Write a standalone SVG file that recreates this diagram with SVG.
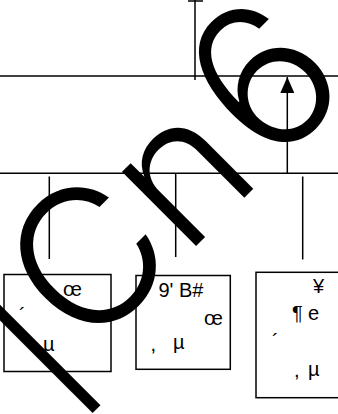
<svg xmlns="http://www.w3.org/2000/svg" width="338" height="414" viewBox="0 0 338 414">
<defs>
<style>
.ln{stroke:#000;stroke-width:1.5;fill:none}
.box{stroke:#000;stroke-width:1.5;fill:none}
.t{font-family:"Liberation Sans",Arial,sans-serif;font-size:20px;fill:#000}
.big{font-family:Inter,sans-serif;font-size:192px;font-weight:300;fill:#000}
</style>
<marker id="ah" viewBox="0 0 16 14" refX="16" refY="7" markerWidth="16" markerHeight="14" markerUnits="userSpaceOnUse" orient="auto">
<path d="M0,0 L16,7 L0,14 Z" fill="#000"/>
</marker>
</defs>
<rect width="338" height="414" fill="#fff"/>
<g id="connectors">
<line class="ln" x1="195" y1="0" x2="195" y2="80"/>
<line class="ln" x1="188" y1="1" x2="203" y2="1"/>
<line class="ln" x1="0" y1="76" x2="338" y2="76"/>
<line class="ln" x1="287.3" y1="173" x2="287.3" y2="77" marker-end="url(#ah)"/>
<line class="ln" x1="0" y1="173.3" x2="338" y2="173.3"/>
<line class="ln" x1="49.3" y1="176.5" x2="49.3" y2="259"/>
<line class="ln" x1="175.7" y1="173" x2="175.7" y2="257"/>
<line class="ln" x1="302.7" y1="176.5" x2="302.7" y2="259.5"/>
</g>
<g id="node1">
<rect class="box" x="4" y="274.5" width="107" height="97"/>
<text class="t" x="63" y="296">œ</text>
<text class="t" x="19" y="321.5">´</text>
<text class="t" x="43" y="351">µ</text>
</g>
<g id="node2">
<rect class="box" x="136" y="275.5" width="94.3" height="93.8"/>
<text class="t" x="158.5" y="297">9' B#</text>
<text class="t" x="204" y="325">œ</text>
<text class="t" x="150.5" y="351">,</text>
<text class="t" x="173" y="349">µ</text>
</g>
<g id="node3">
<rect class="box" x="256" y="272.3" width="90" height="125.4"/>
<text class="t" x="313" y="293">¥</text>
<text class="t" x="292" y="320">¶</text>
<text class="t" x="308" y="320">e</text>
<text class="t" x="272" y="347.5">´</text>
<text class="t" x="294" y="377">,</text>
<text class="t" x="308" y="376">µ</text>
</g>
<text class="big" transform="rotate(-45)" x="-251" y="312.6">|Cn<tspan dx="9" font-size="200">6</tspan></text>
</svg>
